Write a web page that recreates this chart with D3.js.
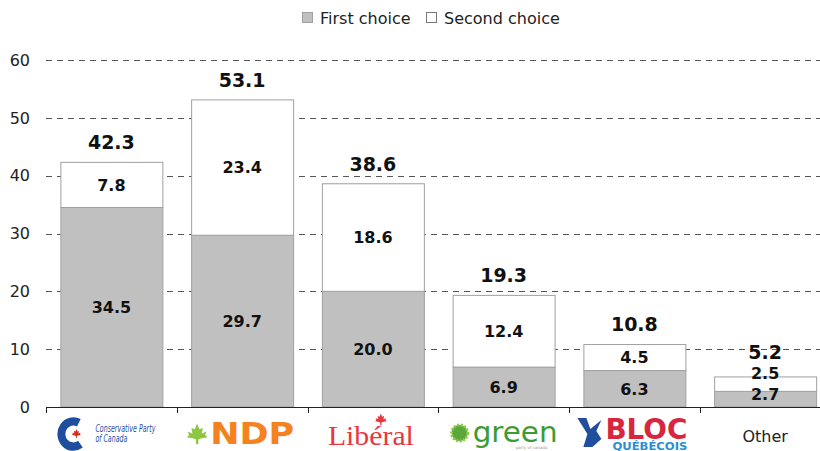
<!DOCTYPE html>
<html>
<head>
<meta charset="utf-8">
<script src="https://cdn.jsdelivr.net/npm/d3@7"></script>
<style>
  html, body { margin: 0; padding: 0; background: #fff; }
  svg { display: block; font-family: "DejaVu Sans", Verdana, sans-serif; }
</style>
</head>
<body>
<div id="chart"></div>
<script>
// chart values
const categories = ['Conservative', 'NDP', 'Liberal', 'Green', 'Bloc', 'Other'];
const firstChoice = [34.5, 29.7, 20.0, 6.9, 6.3, 2.7];
const secondChoice = [7.8, 23.4, 18.6, 12.4, 4.5, 2.5];
const totals = [42.3, 53.1, 38.6, 19.3, 10.8, 5.2];
const yTicks = [0, 10, 20, 30, 40, 50, 60];
const seriesNames = ['First choice', 'Second choice'];

const width = 820, height = 451;

const svg = d3.select('#chart')
  .append('svg')
  .attr('width', width)
  .attr('height', height);

const y = d3.scaleLinear().domain([0, 60]).range([407, 60]);
const x = d3.scaleBand()
  .domain(categories)
  .range([46, 830.5])
  .paddingInner(0.22)
  .paddingOuter(0.11);

// dashed grid
svg.append('g')
  .selectAll('line')
  .data(yTicks.filter(d => d > 0))
  .join('line')
  .attr('x1', 46)
  .attr('x2', width)
  .attr('y1', d => Math.round(y(d)) + 0.5)
  .attr('y2', d => Math.round(y(d)) + 0.5)
  .attr('stroke', '#555')
  .attr('stroke-width', 1)
  .attr('stroke-dasharray', '6,5');

// y tick labels
svg.append('g')
  .selectAll('text')
  .data(yTicks)
  .join('text')
  .attr('x', 30)
  .attr('y', d => y(d))
  .attr('dy', '0.36em')
  .attr('text-anchor', 'end')
  .attr('font-size', '16px')
  .attr('fill', '#222')
  .text(d => d);

// stacked bars
const rows = categories.map((c, i) => ({ c, f: firstChoice[i], s: secondChoice[i], t: totals[i] }));

const bars = svg.append('g');
bars.selectAll('.first')
  .data(rows)
  .join('rect')
  .attr('class', 'first')
  .attr('x', d => x(d.c) + 0.5)
  .attr('width', x.bandwidth())
  .attr('y', d => y(d.f))
  .attr('height', d => y(0) - y(d.f))
  .attr('fill', '#c0c0c0')
  .attr('stroke', '#a0a0a0');

bars.selectAll('.second')
  .data(rows)
  .join('rect')
  .attr('class', 'second')
  .attr('x', d => x(d.c) + 0.5)
  .attr('width', x.bandwidth())
  .attr('y', d => y(d.f + d.s))
  .attr('height', d => y(d.f) - y(d.f + d.s))
  .attr('fill', '#fff')
  .attr('stroke', '#a0a0a0');

// labels, pushed upward when the segments are too thin
rows.forEach(d => {
  d.ly1 = Math.min((y(0) + y(d.f)) / 2, y(0) - 13);
  d.ly2 = Math.min((y(d.f) + y(d.f + d.s)) / 2, d.ly1 - 21);
  d.ly3 = Math.min(y(d.f + d.s) - 20, d.ly2 - 21);
});

const labels = svg.append('g')
  .attr('text-anchor', 'middle')
  .attr('font-weight', 'bold')
  .attr('fill', '#111');

labels.selectAll('.l1').data(rows).join('text')
  .attr('x', d => x(d.c) + x.bandwidth() / 2)
  .attr('y', d => d.ly1).attr('dy', '0.36em')
  .attr('font-size', '16px')
  .text(d => d.f.toFixed(1));
labels.selectAll('.l2').data(rows).join('text')
  .attr('x', d => x(d.c) + x.bandwidth() / 2)
  .attr('y', d => d.ly2).attr('dy', '0.36em')
  .attr('font-size', '16px')
  .text(d => d.s.toFixed(1));
labels.selectAll('.l3').data(rows).join('text')
  .attr('x', d => x(d.c) + x.bandwidth() / 2)
  .attr('y', d => d.ly3).attr('dy', '0.36em')
  .attr('font-size', '19px')
  .text(d => d.t.toFixed(1));

// x axis line + boundary ticks
svg.append('line')
  .attr('x1', 46).attr('x2', width)
  .attr('y1', 407.5).attr('y2', 407.5)
  .attr('stroke', '#222');
svg.append('g')
  .selectAll('line')
  .data(categories)
  .join('line')
  .attr('x1', d => Math.round(x(d) - x.step() * x.paddingInner() / 2) + 0.5)
  .attr('x2', d => Math.round(x(d) - x.step() * x.paddingInner() / 2) + 0.5)
  .attr('y1', 407).attr('y2', 413)
  .attr('stroke', '#222');

// legend
const legend = svg.append('g').attr('font-size', '16px').attr('fill', '#222');
const legX = [302, 426];
seriesNames.forEach((n, i) => {
  legend.append('rect')
    .attr('x', legX[i] + 0.5).attr('y', 12.5)
    .attr('width', 10).attr('height', 10)
    .attr('fill', i === 0 ? '#c0c0c0' : '#fff')
    .attr('stroke', i === 0 ? '#a0a0a0' : '#777');
  legend.append('text')
    .attr('x', legX[i] + 18).attr('y', 24)
    .text(n);
});

// party "logos" under the axis
const leaf = 'M0,-10 L2,-5 L5,-6 L4,-1 L8,-3 L7,0 L9,2 L3,3 L1,4 L1,8 L-1,8 L-1,4 L-3,3 L-9,2 L-7,0 L-8,-3 L-4,-1 L-5,-6 L-2,-5 Z';
const cx = c => x(c) + x.bandwidth() / 2;

// Conservative
let g = svg.append('g').attr('transform', `translate(${cx('Conservative')},432)`);
g.append('path')
  .attr('transform', 'translate(-38,2) scale(1,1.05)')
  .attr('d', d3.arc().innerRadius(8).outerRadius(16).startAngle(Math.PI * 0.8).endAngle(Math.PI * 2.15)())
  .attr('fill', '#1f4e9e');
g.append('path').attr('d', leaf).attr('transform', 'translate(-35,2) scale(0.5)').attr('fill', '#d52b1e');
let t = g.append('text').attr('font-size', '10px').attr('font-style', 'italic').attr('fill', '#1f4e9e')
  .attr('lengthAdjust', 'spacingAndGlyphs');
t.append('tspan').attr('x', -16).attr('y', 0).attr('textLength', 60).attr('lengthAdjust', 'spacingAndGlyphs').text('Conservative Party');
t.append('tspan').attr('x', -16).attr('y', 10).attr('textLength', 32).attr('lengthAdjust', 'spacingAndGlyphs').text('of Canada');

// NDP
g = svg.append('g').attr('transform', `translate(${cx('NDP')},432)`);
g.append('path').attr('d', leaf).attr('transform', 'translate(-45,3) scale(1.15)').attr('fill', '#8dc63f');
g.append('text').attr('x', -32).attr('y', 12).attr('font-size', '31px').attr('font-weight', 'bold')
  .attr('fill', '#f58220').attr('textLength', 84).attr('lengthAdjust', 'spacingAndGlyphs').text('NDP');

// Liberal
g = svg.append('g').attr('transform', `translate(${cx('Liberal')},432)`);
g.append('path').attr('d', leaf).attr('transform', 'translate(8,-12) scale(0.65)').attr('fill', '#e8383d');
g.append('text').attr('x', -45).attr('y', 13).attr('font-size', '28px')
  .attr('font-family', '"Liberation Serif", "DejaVu Serif", serif')
  .attr('fill', '#e8383d').attr('textLength', 86).attr('lengthAdjust', 'spacingAndGlyphs').text('Libéral');

// Green
g = svg.append('g').attr('transform', `translate(${cx('Green')},432)`);
g.append('circle').attr('cx', -44).attr('cy', 1).attr('r', 8)
  .attr('fill', '#5aa83a').attr('stroke', '#8cc84b').attr('stroke-width', 3).attr('stroke-dasharray', '2,1.5');
t = g.append('text').attr('fill', '#3d9b35');
t.append('tspan').attr('x', -31).attr('y', 10).attr('font-size', '29px')
  .attr('textLength', 85).attr('lengthAdjust', 'spacingAndGlyphs').text('green');
t.append('tspan').attr('x', 12).attr('y', 17).attr('font-size', '4px').attr('fill', '#999')
  .text('party of canada');

// Bloc
g = svg.append('g').attr('transform', `translate(${cx('Bloc')},432)`);
g.append('path')
  .attr('d', 'M-57,-14 L-48,-14 L-44,-3 L-33,-12 L-38,-1 L-33,7 L-42,15 L-51,15 L-47,2 Z')
  .attr('fill', '#1f4e9e');
t = g.append('text').attr('font-weight', 'bold');
t.append('tspan').attr('x', -29).attr('y', 7).attr('font-size', '28px').attr('fill', '#d7263d')
  .attr('textLength', 82).attr('lengthAdjust', 'spacingAndGlyphs').text('BLOC');
t.append('tspan').attr('x', -22).attr('y', 18).attr('font-size', '10px').attr('fill', '#2a8fd0')
  .attr('textLength', 75).attr('lengthAdjust', 'spacingAndGlyphs').text('QUÉBÉCOIS');

// Other
svg.append('text')
  .attr('x', cx('Other')).attr('y', 442)
  .attr('text-anchor', 'middle')
  .attr('font-size', '16px')
  .attr('fill', '#222')
  .text('Other');
</script>
</body>
</html>
